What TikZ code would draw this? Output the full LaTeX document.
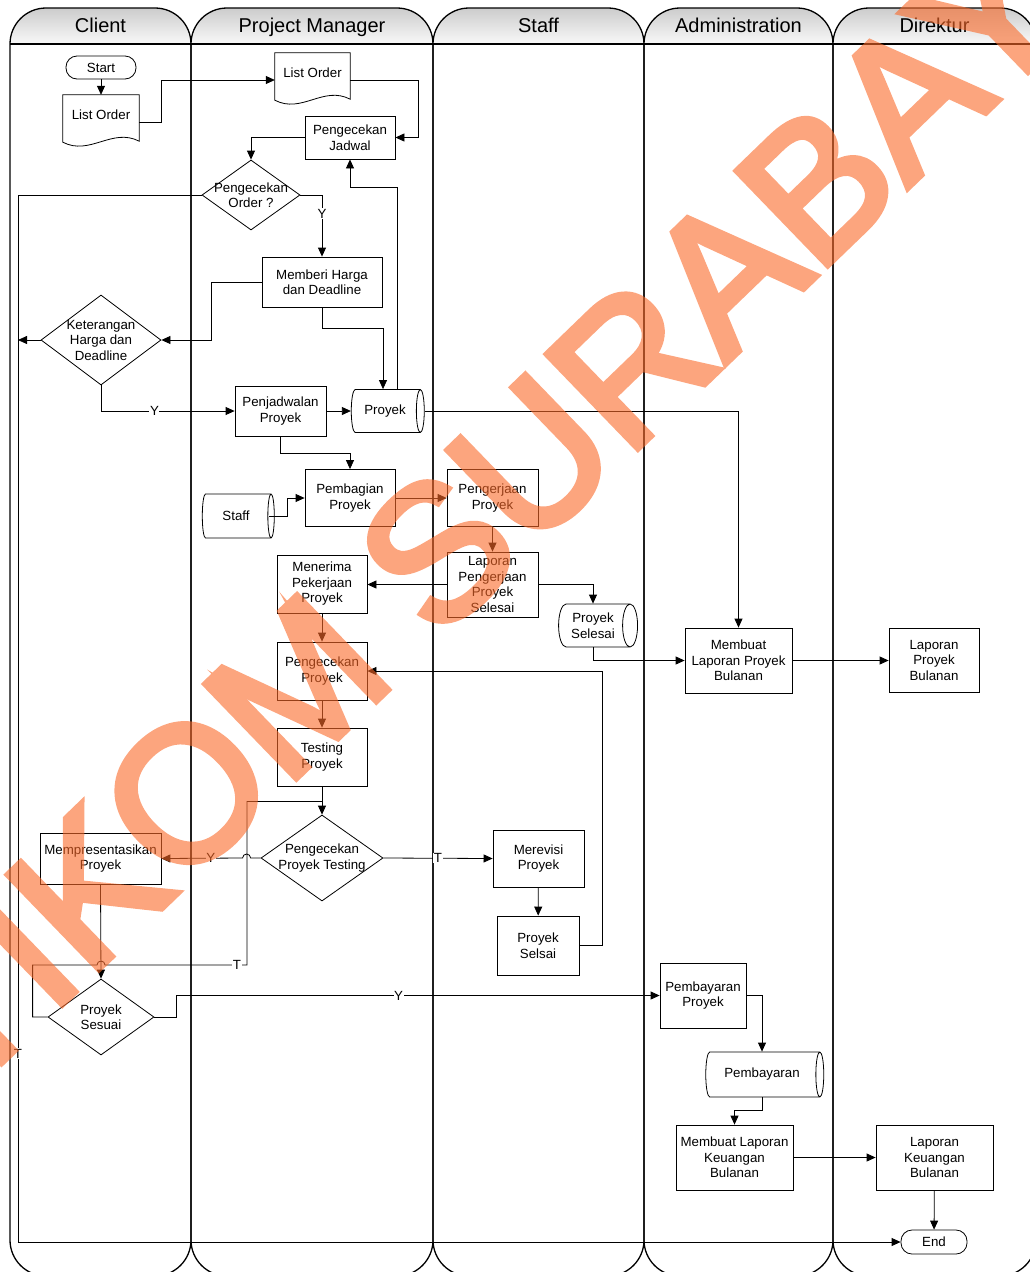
\documentclass[tikz,border=0pt]{standalone}
\usepackage{fontspec}
\setmainfont{Liberation Sans}
\newfontfamily\wmfont[FakeBold=3.5]{Liberation Sans}
\usepackage{tikz}
\usetikzlibrary{positioning}
\usetikzlibrary{shapes.geometric}
\usetikzlibrary{arrows.meta}
\usepackage{xcolor}
\definecolor{wmorange}{RGB}{250,105,40}
\newcommand\bodyfont{\fontsize{13.3}{15.5}\selectfont}
\newcommand\docshape[1]{
  \draw[box] (#1.north west) -- (#1.north east) -- ([shift={(0,6)}]#1.south east)
    .. controls ([shift={(-27,-8)}]#1.south east) and ([shift={(27,21)}]#1.south west) .. ([shift={(0,7)}]#1.south west) -- cycle;
}
\tikzset{
  box/.style={line width=0.8pt},
  proc/.style={draw, line width=0.8pt, align=center, inner sep=1pt},
  term/.style={draw, line width=0.8pt, rounded corners=11pt, inner sep=1pt},
  docu/.style={align=center, inner sep=1pt},
  dec/.style={draw, line width=0.8pt, diamond, inner sep=0pt},
  store/.style={draw, line width=0.8pt, cylinder, shape aspect=0.55, inner sep=1pt, align=center},
  lbl/.style={fill=white, inner sep=0.6pt},
  lane/.style={line width=1.3pt},
  flow/.style={line width=0.8pt, ->},
}

\begin{document}
\begin{tikzpicture}[x=1pt, y=-1pt, font=\bodyfont, >={Triangle[length=9pt,width=8pt]}]
  \useasboundingbox (0,0) rectangle (1030,1272);
  \clip (0,0) rectangle (1030,1272);
  % swimlanes
  \foreach \xa/\xb/\ttl [count=\i] in {10/191/Client, 191/433/Project Manager, 433/644/Staff, 644/833/Administration, 833/1036/Direktur}{
    \shade[top color=gray!40, bottom color=gray!5] (\xa,44) arc (180:90:36pt) -- (\xb-36,8) arc (90:0:36pt) -- cycle;
    \draw[lane] (\xa,44) arc (180:90:36pt) -- (\xb-36,8) arc (90:0:36pt) -- (\xb,1240) arc (0:-90:36pt) -- (\xa+36,1276) arc (270:180:36pt) -- cycle;
    \draw[lane] (\xa,44) -- (\xb,44);
    \node[font=\fontsize{20}{24}\selectfont, anchor=base] (hd\i) at ({(\xa+\xb)/2},32.5) {\ttl};
  }

  % nodes
  \node[term, minimum width=70, minimum height=23] (start) at (101,67.5) {Start};
  \node[docu, minimum width=76, minimum height=40] (lo1) at (101,115) {List Order};
  \docshape{lo1}
  \node[docu, minimum width=75, minimum height=40] (lo2) at (312.5,73) {List Order};
  \docshape{lo2}
  \node[proc, minimum width=90, minimum height=43] (pj) at (350,137.5) {Pengecekan\\Jadwal};
  \node[dec, minimum width=98, minimum height=70, label={[align=center]center:Pengecekan\\Order ?}] (po) at (251,195) {};
  \node[proc, minimum width=120, minimum height=50] (mbh) at (322,282) {Memberi Harga\\dan Deadline};
  \node[dec, minimum width=120, minimum height=90, label={[align=center]center:Keterangan\\Harga dan\\Deadline}] (kh) at (101,340) {};
  \node[proc, minimum width=91, minimum height=50] (pp) at (280.5,411) {Penjadwalan\\Proyek};
  \node[store, minimum width=43, minimum height=73] (proyek) at (385,411) {Proyek};
  \node[proc, minimum width=90, minimum height=57] (pb) at (350,498) {Pembagian\\Proyek};
  \node[store, minimum width=44, minimum height=72] (staff) at (236,516) {Staff};
  \node[proc, minimum width=91, minimum height=57] (pgp) at (492.5,498) {Pengerjaan\\Proyek};
  \node[proc, minimum width=91, minimum height=65] (lpps) at (492.5,584.5) {Laporan\\Pengerjaan\\Proyek\\Selesai};
  \node[proc, minimum width=90, minimum height=58] (mpp) at (322,584) {Menerima\\Pekerjaan\\Proyek};
  \node[store, minimum width=43, minimum height=79] (ps) at (593,625.5) {Proyek\\Selesai};
  \node[proc, minimum width=107, minimum height=65] (mlpb) at (738.5,660.5) {Membuat\\Laporan Proyek\\Bulanan};
  \node[proc, minimum width=90, minimum height=64] (lpb) at (934,660) {Laporan\\Proyek\\Bulanan};
  \node[proc, minimum width=90, minimum height=58] (pgk) at (322,671) {Pengecekan\\Proyek};
  \node[proc, minimum width=90, minimum height=58] (tp) at (322,757) {Testing\\Proyek};
  \node[dec, minimum width=122, minimum height=86, label={[align=center]center:Pengecekan\\Proyek Testing}] (ppt) at (322,858) {};
  \node[proc, minimum width=91, minimum height=57] (mv) at (538.5,858.5) {Merevisi\\Proyek};
  \node[proc, minimum width=82, minimum height=59] (pse) at (538,945.5) {Proyek\\Selsai};
  \node[proc, minimum width=121, minimum height=51] (mp) at (100.5,858.5) {Mempresentasikan\\Proyek};
  \node[dec, minimum width=106, minimum height=76, label={[align=center]center:Proyek\\Sesuai}] (psu) at (101,1017) {};
  \node[proc, minimum width=86, minimum height=65] (pby) at (703,995.5) {Pembayaran\\Proyek};
  \node[store, minimum width=45, minimum height=118] (pbyd) at (762,1074.5) {Pembayaran};
  \node[proc, minimum width=117, minimum height=65] (mlkb) at (734.5,1157.5) {Membuat Laporan\\Keuangan\\Bulanan};
  \node[proc, minimum width=117, minimum height=65] (lkb) at (934.5,1157.5) {Laporan\\Keuangan\\Bulanan};
  \node[term, minimum width=66, minimum height=24] (end) at (934,1242) {End};
  \coordinate (tx) at (18,0);

  % connectors
  \draw[flow] (start) -- (lo1);
  \draw[flow] ([shift={(0,7)}]lo1.east) -- ++(22,0) |- ([shift={(0,7)}]lo2.west);
  \draw[flow] ([shift={(0,7)}]lo2.east) -- ++(68,0) |- (pj.east);
  \draw[flow] (pj.west) -| (po.north);
  \draw[flow] (po.east) -| node[lbl, pos=.65]{Y} (mbh.north);
  \draw[flow] (po.west) -- (po.west -| tx) -- node[lbl, pos=.82]{T} (end.west -| tx) -- (end.west);
  \draw[flow] (mbh.west) -- ++(-50,0) |- (kh.east);
  \draw[flow] (kh.west) -- (kh.west -| tx);
  \draw[flow] (kh.south) |- node[lbl, pos=.7]{Y} (pp.west);
  \draw[flow] (pp.east) -- (proyek.west);
  \draw[flow] (mbh.south) -- ++(0,21) -| ([xshift=-2pt]proyek.north);
  \draw[flow] ([xshift=12pt]proyek.north) -- ++(0,-202) -| (pj.south);
  \draw[flow] (proyek.east) -| (mlpb.north);
  \draw[flow] (pp.south) -- ++(0,17) -| (pb.north);
  \draw[flow] ([xshift=-6pt]staff.east) -- ++(19,0) |- (pb.west);
  \draw[flow] (pb.east) -- (pgp.west);
  \draw[flow] (pgp) -- (lpps);
  \draw[flow] (lpps.west) -- (lpps.west -| mpp.east);
  \draw[flow] (lpps.east) -| (ps.north);
  \draw[flow] (ps.south) |- (mlpb.west);
  \draw[flow] (mlpb.east) -- (mlpb.east -| lpb.west);
  \draw[flow] (mpp) -- (pgk);
  \draw[flow] (pgk) -- (tp);
  \draw[flow] (tp.south) -- (ppt.north);
  \draw[flow] (ppt.west) -- ([xshift=-10pt]ppt.west) arc (0:180:4pt) -- node[lbl, pos=.39]{Y} (mp.east);
  \draw[flow] (ppt.east) -- node[lbl]{T} (mv.west);
  \draw[flow] (mv) -- (pse);
  \draw[flow] (pse.east) -- ++(23,0) |- (pgk.east);
  \draw[flow] (mp.south) -- (psu.north);
  \draw[box] (psu.west) -- ++(-15,0) |- (97,965) arc (180:0:4pt) -- node[lbl, pos=.93]{T} (247,965) |- ([yshift=-15pt]tp.south);
  \draw[flow] (psu.east) -- ++(22,0) |- node[lbl, pos=.73]{Y} (pby.west);
  \draw[flow] (pby.east) -| (pbyd.north);
  \draw[flow] (pbyd.south) -- ++(0,13) -| (mlkb.north);
  \draw[flow] (mlkb.east) -- (lkb.west);
  \draw[flow] (lkb) -- (end);

  % watermark
  \begin{scope}[transparency group, opacity=.6]
    \node[rotate=44, anchor=base, text=wmorange, font=\wmfont\fontsize{190}{190}\selectfont] (wmark) at (518,564) {STIKOM SURABAYA};
  \end{scope}
\end{tikzpicture}
\end{document}
